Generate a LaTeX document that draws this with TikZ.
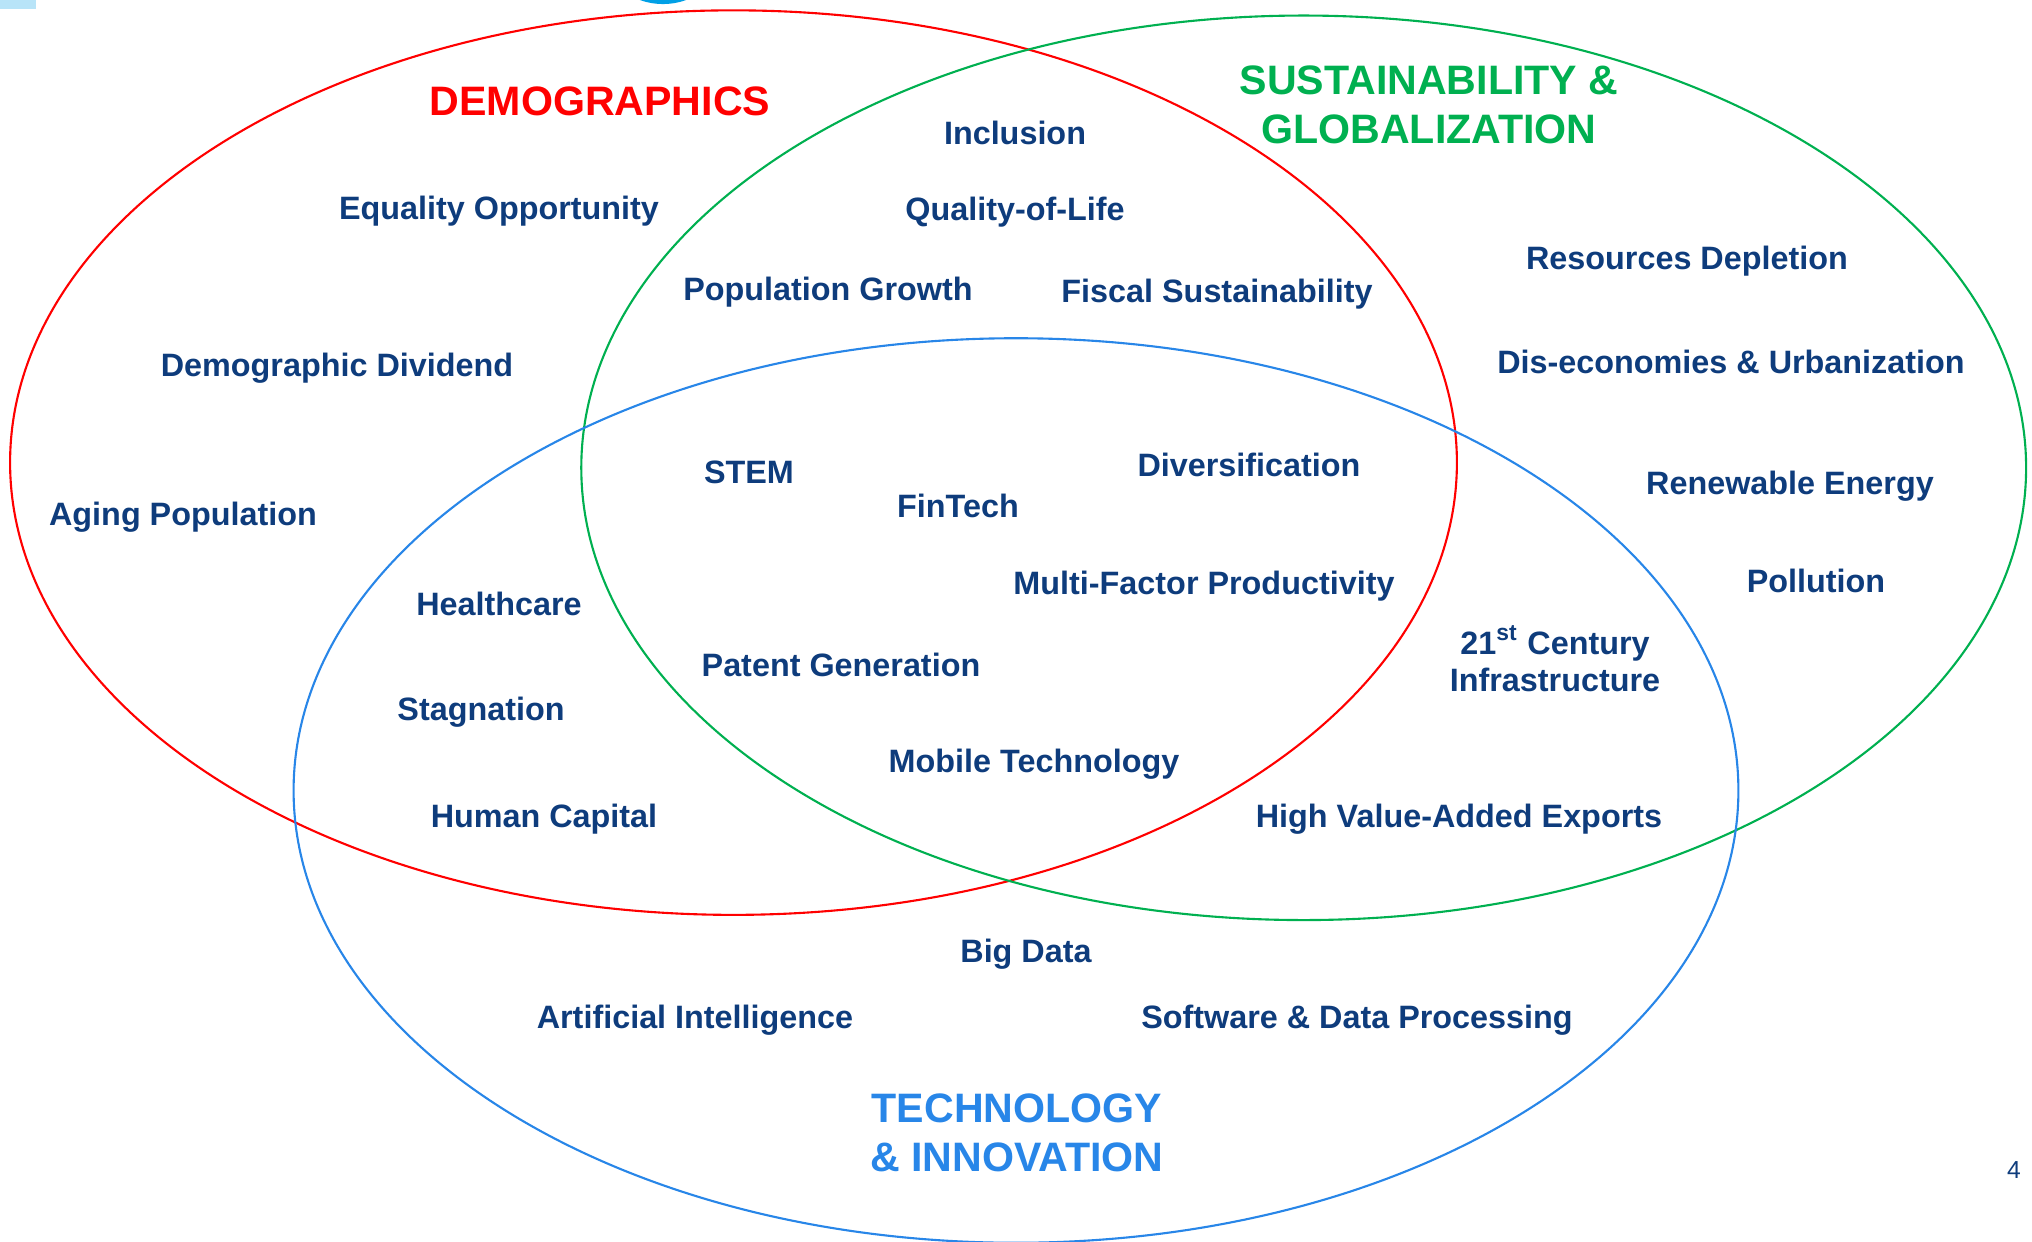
\documentclass[tikz,border=0pt]{standalone}
\usepackage{fontspec}
\setmainfont{Liberation Sans}

\definecolor{demored}{RGB}{255,0,0}
\definecolor{susgreen}{RGB}{0,176,80}
\definecolor{techblue}{RGB}{40,134,232}
\definecolor{itemnavy}{RGB}{14,60,124}
\definecolor{skyblue}{RGB}{184,228,248}
\definecolor{dotblue}{RGB}{0,160,230}

\begin{document}
\begin{tikzpicture}[x=0.01cm, y=-0.01cm,
  item/.style={text=itemnavy, font=\fontsize{9.2}{10.8}\selectfont\bfseries, align=center, inner sep=0pt, yshift=-0.6pt},
  heading/.style={font=\fontsize{11.7}{14}\selectfont\bfseries, align=center, inner sep=0pt},
  ring/.style={line width=0.6pt}]
  \useasboundingbox (0,0) rectangle (2032,1242);
  \clip (0,0) rectangle (2032,1242);

  % Corner marks
  \fill[skyblue] (0,0) rectangle (36,9);
  \fill[dotblue] (663,-64) circle (0.68cm);

  % The three sets
  \draw[ring, demored] (733.5,462.6) ellipse [x radius=7.23cm, y radius=4.52cm];
  \draw[ring, susgreen] (1303.7,467.8) ellipse [x radius=7.22cm, y radius=4.52cm];
  \draw[ring, techblue] (1016,790.5) ellipse [x radius=7.22cm, y radius=4.52cm];

  % Set headings
  \node[heading, text=demored] (demo) at (600,101) {DEMOGRAPHICS};
  \node[heading, text=susgreen] (sust) at (1429,105) {SUSTAINABILITY \&\\GLOBALIZATION};
  \node[heading, text=techblue] (tech) at (1017,1133) {TECHNOLOGY\\\& INNOVATION};

  % Demographics only
  \node[item] (equal) at (499,209) {Equality Opportunity};
  \node[item] (divid) at (337,366) {Demographic Dividend};
  \node[item] (aging) at (183,515) {Aging Population};

  % Demographics and sustainability
  \node[item] (incl) at (1015,131) {Inclusion};
  \node[item] (qol) at (1015,210) {Quality-of-Life};
  \node[item] (popgr) at (828,290) {Population Growth};
  \node[item] (fiscal) at (1217,292) {Fiscal Sustainability};

  % Sustainability only
  \node[item] (depl) at (1687,259) {Resources Depletion};
  \node[item] (diseco) at (1731,360) {Dis-economies \& Urbanization};
  \node[item] (renew) at (1790,484) {Renewable Energy};
  \node[item] (pollu) at (1816,579) {Pollution};

  % All three
  \node[item] (stem) at (749,470) {STEM};
  \node[item] (divers) at (1249,463) {Diversification};
  \node[item] (fintech) at (958,504) {FinTech};
  \node[item] (mfp) at (1204,584) {Multi-Factor Productivity};
  \node[item] (patent) at (841,663) {Patent Generation};
  \node[item] (mobile) at (1034,762) {Mobile Technology};

  % Demographics and technology
  \node[item] (health) at (499,602) {Healthcare};
  \node[item] (stagn) at (481,710) {Stagnation};
  \node[item] (human) at (544,817) {Human Capital};

  % Sustainability and technology
  \node[item, font=\fontsize{9.2}{10.7}\selectfont\bfseries] (infra) at (1555,657) {21\textsuperscript{\fontsize{6.5}{7}\selectfont st} Century\\Infrastructure};
  \node[item] (exports) at (1459,817) {High Value-Added Exports};

  % Technology only
  \node[item] (bigdata) at (1026,952) {Big Data};
  \node[item] (ai) at (695,1018) {Artificial Intelligence};
  \node[item] (software) at (1357,1018) {Software \& Data Processing};

  % Page number
  \node[text=itemnavy, font=\fontsize{7}{8}\selectfont, inner sep=0pt] (page) at (2014,1170) {4};
\end{tikzpicture}
\end{document}
